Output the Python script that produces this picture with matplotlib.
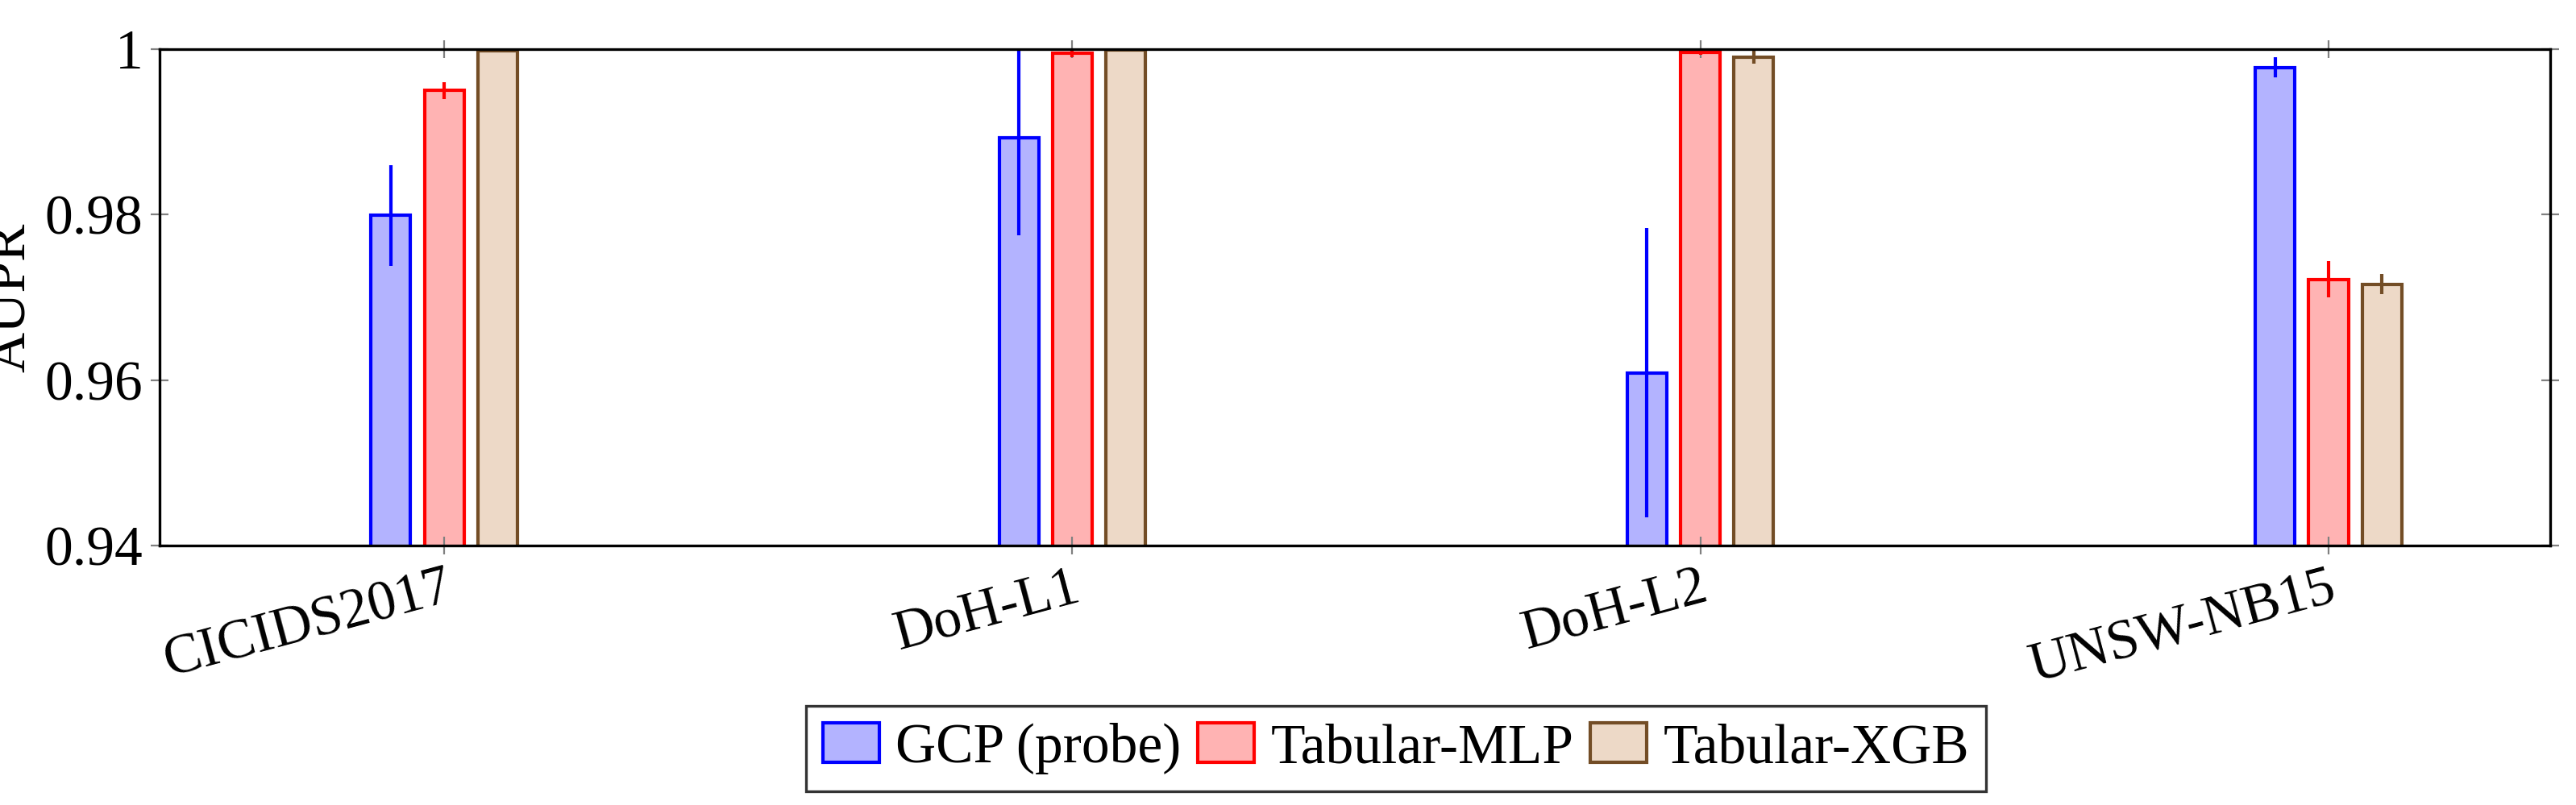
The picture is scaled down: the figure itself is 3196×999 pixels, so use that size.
import numpy as np
import matplotlib.pyplot as plt

plt.rcParams['font.family'] = ['Liberation Serif', 'DejaVu Serif']
plt.rcParams['font.size'] = 25

datasets = ['CICIDS2017', 'DoH-L1', 'DoH-L2', 'UNSW-NB15']
models = ['GCP (probe)', 'Tabular-MLP', 'Tabular-XGB']
gcp = [0.9799, 0.9893, 0.9609, 0.9978]
gcp_err = [0.0061, 0.0118, 0.0175, 0.0012]
mlp = [0.9950, 0.9995, 0.9996, 0.9722]
mlp_err = [0.0010, 0.0005, 0.0003, 0.0022]
xgb = [0.9998, 0.9999, 0.9990, 0.9716]
xgb_err = [0.0002, 0.0001, 0.0008, 0.0012]

faces = [(0.7, 0.7, 1.0), (1.0, 0.7, 0.7), (0.93, 0.85, 0.78)]
edges = ['blue', 'red', (0.45, 0.3, 0.15)]

fig = plt.figure(figsize=(15.98, 4.995), dpi=200)
ax = fig.add_axes([0.062, 0.322, 0.928, 0.617])
x = np.arange(len(datasets))
w = 0.063
offsets = [-0.085, 0.0, 0.085]
for vals, errs, off, fc, ec, lab in zip([gcp, mlp, xgb], [gcp_err, mlp_err, xgb_err],
                                        offsets, faces, edges, models):
    ax.bar(x + off, vals, w, color=fc, edgecolor=ec, linewidth=1.5, label=lab)
    ax.errorbar(x + off, vals, yerr=errs, fmt='none', ecolor=ec, elinewidth=1.5, capsize=0)

ax.set_ylim(0.94, 1.0)
ax.set_xlim(-0.453, 3.353)
ax.set_yticks([0.94, 0.96, 0.98, 1.0])
ax.set_yticklabels(['0.94', '0.96', '0.98', '1'])
ax.set_xticks(x)
ax.set_xticklabels(datasets, rotation=15, ha='right', rotation_mode='anchor')
ax.tick_params(direction='inout', length=8, color='gray', top=True, right=True, labelsize=25)
for s in ax.spines.values():
    s.set_linewidth(1.2)
ax.set_ylabel('AUPR')
leg = fig.legend(loc='center', bbox_to_anchor=(0.542, 0.07), ncol=3, frameon=True,
                 fancybox=False, edgecolor='black', handlelength=1.0, columnspacing=0.3,
                 handletextpad=0.3, borderpad=0.3)
leg.get_frame().set_linewidth(1.2)
fig.savefig('out.png')
